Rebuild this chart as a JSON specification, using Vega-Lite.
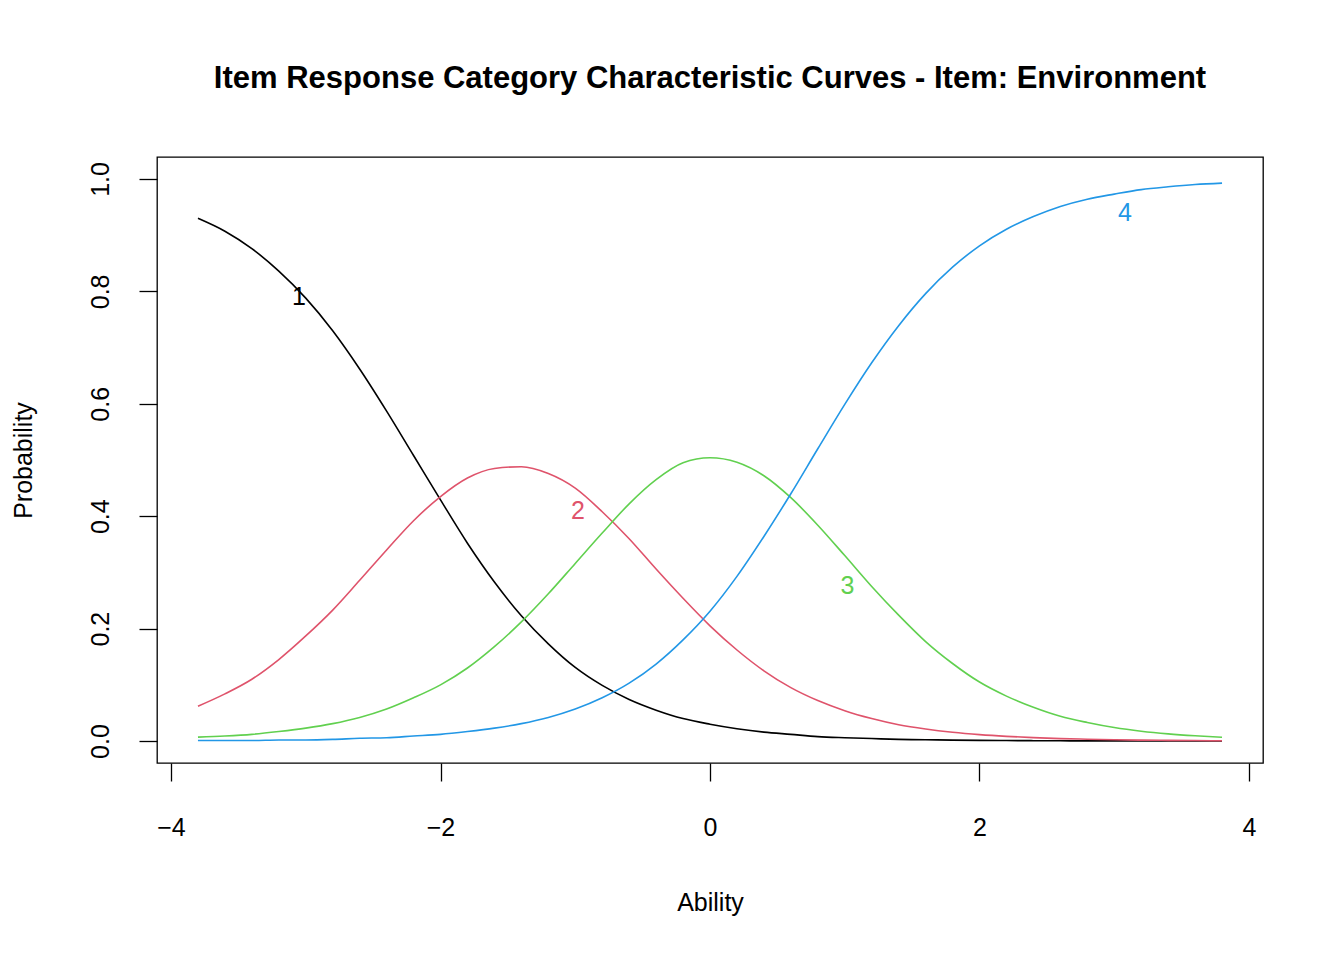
{
  "$schema": "https://vega.github.io/schema/vega-lite/v6.json",
  "width": 1106,
  "height": 606,
  "autosize": "none",
  "padding": {"left": 157, "top": 157, "right": 81, "bottom": 197},
  "background": "white",
  "config": {
    "view": {"stroke": "black", "strokeWidth": 1.3},
    "font": "Liberation Sans"
  },
  "title": {
    "text": "Item Response Category Characteristic Curves - Item: Environment",
    "fontSize": 31,
    "fontWeight": "bold",
    "font": "Liberation Sans",
    "color": "black",
    "anchor": "middle",
    "offset": 62
  },
  "datasets": {
    "curves": [
      {"x": -3.8, "p1": 0.930, "p2": 0.062, "p3": 0.007, "p4": 0.001},
      {"x": -3.6, "p1": 0.907, "p2": 0.084, "p3": 0.009, "p4": 0.001},
      {"x": -3.4, "p1": 0.876, "p2": 0.110, "p3": 0.012, "p4": 0.001},
      {"x": -3.2, "p1": 0.836, "p2": 0.145, "p3": 0.017, "p4": 0.002},
      {"x": -3.0, "p1": 0.788, "p2": 0.187, "p3": 0.023, "p4": 0.002},
      {"x": -2.8, "p1": 0.730, "p2": 0.233, "p3": 0.031, "p4": 0.003},
      {"x": -2.6, "p1": 0.662, "p2": 0.286, "p3": 0.042, "p4": 0.005},
      {"x": -2.4, "p1": 0.587, "p2": 0.340, "p3": 0.057, "p4": 0.006},
      {"x": -2.2, "p1": 0.508, "p2": 0.392, "p3": 0.077, "p4": 0.009},
      {"x": -2.0, "p1": 0.429, "p2": 0.435, "p3": 0.100, "p4": 0.012},
      {"x": -1.8, "p1": 0.352, "p2": 0.468, "p3": 0.130, "p4": 0.017},
      {"x": -1.6, "p1": 0.283, "p2": 0.485, "p3": 0.168, "p4": 0.023},
      {"x": -1.4, "p1": 0.223, "p2": 0.488, "p3": 0.212, "p4": 0.031},
      {"x": -1.2, "p1": 0.173, "p2": 0.476, "p3": 0.262, "p4": 0.042},
      {"x": -1.0, "p1": 0.131, "p2": 0.450, "p3": 0.316, "p4": 0.057},
      {"x": -0.8, "p1": 0.099, "p2": 0.408, "p3": 0.370, "p4": 0.077},
      {"x": -0.6, "p1": 0.074, "p2": 0.360, "p3": 0.422, "p4": 0.103},
      {"x": -0.4, "p1": 0.055, "p2": 0.306, "p3": 0.465, "p4": 0.137},
      {"x": -0.2, "p1": 0.040, "p2": 0.254, "p3": 0.495, "p4": 0.180},
      {"x": 0.0, "p1": 0.030, "p2": 0.205, "p3": 0.504, "p4": 0.231},
      {"x": 0.2, "p1": 0.022, "p2": 0.162, "p3": 0.496, "p4": 0.293},
      {"x": 0.4, "p1": 0.016, "p2": 0.125, "p3": 0.472, "p4": 0.364},
      {"x": 0.6, "p1": 0.012, "p2": 0.095, "p3": 0.433, "p4": 0.440},
      {"x": 0.8, "p1": 0.008, "p2": 0.072, "p3": 0.384, "p4": 0.520},
      {"x": 1.0, "p1": 0.006, "p2": 0.054, "p3": 0.330, "p4": 0.599},
      {"x": 1.2, "p1": 0.0045, "p2": 0.040, "p3": 0.275, "p4": 0.673},
      {"x": 1.4, "p1": 0.003, "p2": 0.029, "p3": 0.224, "p4": 0.739},
      {"x": 1.6, "p1": 0.0024, "p2": 0.0214, "p3": 0.177, "p4": 0.796},
      {"x": 1.8, "p1": 0.0017, "p2": 0.0157, "p3": 0.138, "p4": 0.843},
      {"x": 2.0, "p1": 0.0012, "p2": 0.0115, "p3": 0.105, "p4": 0.881},
      {"x": 2.2, "p1": 0.0009, "p2": 0.0084, "p3": 0.080, "p4": 0.9105},
      {"x": 2.4, "p1": 0.0007, "p2": 0.0061, "p3": 0.060, "p4": 0.933},
      {"x": 2.6, "p1": 0.0005, "p2": 0.0044, "p3": 0.044, "p4": 0.951},
      {"x": 2.8, "p1": 0.0003, "p2": 0.0033, "p3": 0.033, "p4": 0.964},
      {"x": 3.0, "p1": 0.0003, "p2": 0.0023, "p3": 0.024, "p4": 0.973},
      {"x": 3.2, "p1": 0.0002, "p2": 0.0017, "p3": 0.0175, "p4": 0.981},
      {"x": 3.4, "p1": 0.0001, "p2": 0.0013, "p3": 0.0128, "p4": 0.986},
      {"x": 3.6, "p1": 0.0001, "p2": 0.0009, "p3": 0.0094, "p4": 0.990},
      {"x": 3.8, "p1": 0.0001, "p2": 0.0006, "p3": 0.0068, "p4": 0.9925}
    ],
    "labels": [
      {"x": -3.05, "p": 0.79, "cat": "1"},
      {"x": -0.98, "p": 0.41, "cat": "2"},
      {"x": 1.02, "p": 0.275, "cat": "3"},
      {"x": 3.08, "p": 0.94, "cat": "4"}
    ]
  },
  "layer": [
    {
      "data": {"name": "curves"},
      "transform": [
        {"fold": ["p1", "p2", "p3", "p4"], "as": ["key", "p"]},
        {"calculate": "substring(datum.key, 1)", "as": "cat"}
      ],
      "mark": {"type": "line", "strokeWidth": 1.6, "interpolate": "monotone"},
      "encoding": {
        "x": {
          "field": "x", "type": "quantitative",
          "scale": {"domain": [-4.104, 4.104], "nice": false, "zero": false},
          "axis": {
            "title": "Ability", "values": [-4, -2, 0, 2, 4], "format": "d", "grid": false,
            "domain": false, "tickSize": 18, "tickColor": "black", "tickWidth": 1.3,
            "labelFontSize": 25, "labelColor": "black", "labelPadding": 34,
            "titleFontSize": 25, "titleFontWeight": "normal", "titleColor": "black",
            "titlePadding": 50
          }
        },
        "y": {
          "field": "p", "type": "quantitative",
          "scale": {"domain": [-0.039, 1.039], "nice": false, "zero": false},
          "axis": {
            "title": "Probability", "values": [0, 0.2, 0.4, 0.6, 0.8, 1.0], "format": ".1f",
            "grid": false, "domain": false, "tickSize": 18, "tickColor": "black", "tickWidth": 1.3,
            "labelFontSize": 25, "labelColor": "black", "labelAngle": -90,
            "labelAlign": "center", "labelBaseline": "bottom", "labelPadding": 26,
            "titleFontSize": 25, "titleFontWeight": "normal", "titleColor": "black",
            "titlePadding": 52
          }
        },
        "color": {
          "field": "cat", "type": "nominal",
          "scale": {"domain": ["1", "2", "3", "4"], "range": ["#000000", "#DF536B", "#61D04F", "#2297E6"]},
          "legend": null
        }
      }
    },
    {
      "data": {"name": "labels"},
      "mark": {"type": "text", "fontSize": 25, "align": "center", "baseline": "middle"},
      "encoding": {
        "x": {"field": "x", "type": "quantitative"},
        "y": {"field": "p", "type": "quantitative"},
        "text": {"field": "cat"},
        "color": {
          "field": "cat", "type": "nominal",
          "scale": {"domain": ["1", "2", "3", "4"], "range": ["#000000", "#DF536B", "#61D04F", "#2297E6"]},
          "legend": null
        }
      }
    }
  ]
}
